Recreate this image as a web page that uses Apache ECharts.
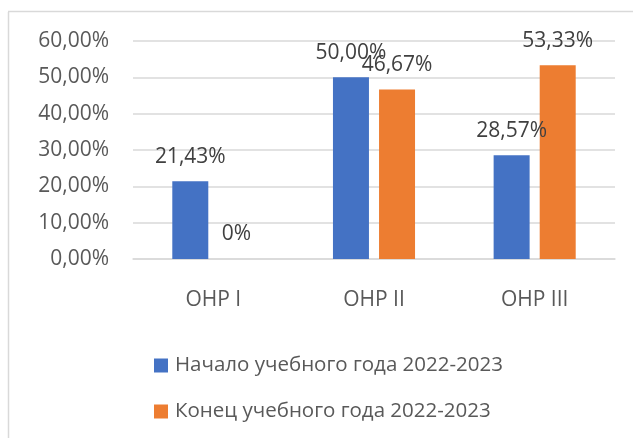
<!DOCTYPE html>
<html>
<head>
<meta charset="utf-8">
<script src="https://cdn.jsdelivr.net/npm/echarts@6/dist/echarts.min.js"></script>
<style>
html,body{margin:0;padding:0;background:#fff;}
#c{width:633px;height:438px;}
</style>
</head>
<body>
<div id="c"></div>
<script>
const categories = ['ОНР I', 'ОНР II', 'ОНР III'];
const seriesNames = ['Начало учебного года 2022-2023', 'Конец учебного года 2022-2023'];
const startValues = [21.43, 50.00, 28.57];
const endValues = [0, 46.67, 53.33];
const yTicks = { min: 0, max: 60, interval: 10 };

const FONT = '"Open Sans", "Noto Sans", sans-serif';
const TXT = '#595959';
function fmtLabel(v) { return v === 0 ? '0%' : v.toFixed(2).replace('.', ',') + '%'; }

const chart = echarts.init(document.getElementById('c'));
const labelCfg = {
  show: true, position: 'top', distance: 14,
  fontFamily: FONT, fontSize: 21, color: '#404040',
  formatter: p => fmtLabel(p.value)
};
chart.setOption({
  animation: false,
  textStyle: { fontFamily: FONT },
  graphic: [
    { type: 'line', shape: { x1: 8.5, y1: 12, x2: 8.5, y2: 438 }, style: { stroke: '#d9d9d9', lineWidth: 1.5 } },
    { type: 'line', shape: { x1: 8, y1: 11.5, x2: 633, y2: 11.5 }, style: { stroke: '#d9d9d9', lineWidth: 1.5 } }
  ],
  grid: { left: 133, right: 18, top: 41, bottom: 179 },
  legend: {
    orient: 'vertical', left: 154, top: 355, padding: 0,
    itemWidth: 14, itemHeight: 14, itemGap: 25,
    icon: 'rect',
    textStyle: { fontFamily: FONT, fontSize: 20.5, color: TXT, padding: [0, 0, 0, 2] },
    data: seriesNames
  },
  xAxis: {
    type: 'category', data: categories,
    axisLine: { lineStyle: { color: '#d9d9d9', width: 1.5 } },
    axisTick: { show: false },
    axisLabel: { fontFamily: FONT, fontSize: 21, color: TXT, margin: 31 }
  },
  yAxis: {
    type: 'value', min: yTicks.min, max: yTicks.max, interval: yTicks.interval,
    axisLine: { show: false }, axisTick: { show: false },
    splitLine: { lineStyle: { color: '#d9d9d9', width: 1.5 } },
    axisLabel: { fontFamily: FONT, fontSize: 21, color: TXT, margin: 24,
      formatter: v => v.toFixed(2).replace('.', ',') + '%' }
  },
  series: [
    { name: seriesNames[0], type: 'bar', data: startValues, barWidth: 36, barGap: '28%',
      itemStyle: { color: '#4472C4' }, label: labelCfg },
    { name: seriesNames[1], type: 'bar', data: endValues, barWidth: 36, barGap: '28%',
      itemStyle: { color: '#ED7D31' }, label: labelCfg }
  ]
});
</script>
</body>
</html>
